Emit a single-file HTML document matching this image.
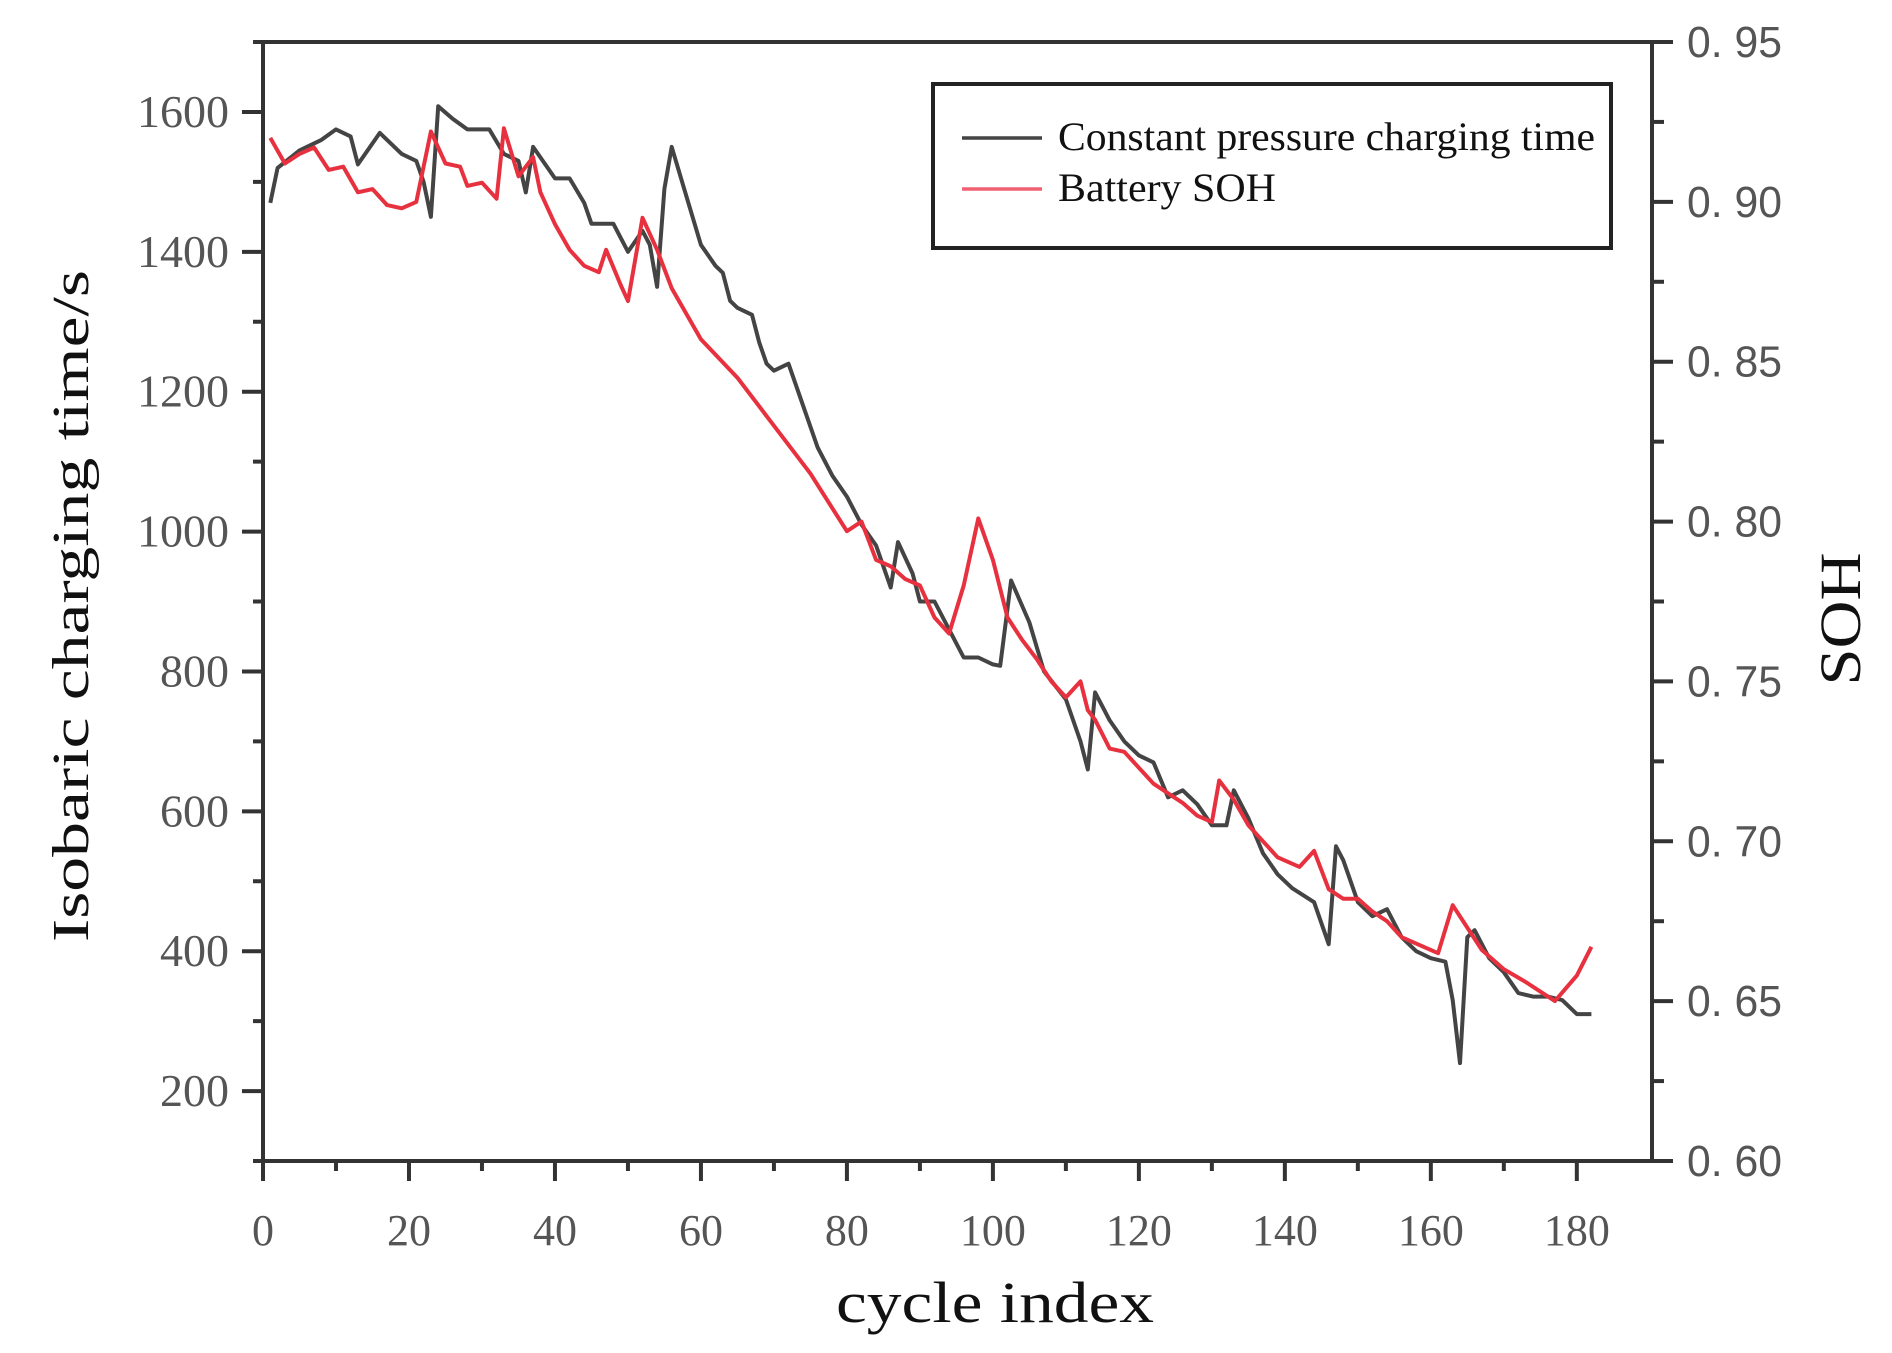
<!DOCTYPE html>
<html><head><meta charset="utf-8"><style>
html,body{margin:0;padding:0;background:#fff;width:1892px;height:1353px;overflow:hidden}
svg{display:block}
</style></head><body>
<svg id="chart" width="1892" height="1353" viewBox="0 0 1892 1353" xmlns="http://www.w3.org/2000/svg">
<g id="axes"></g>
<g id="series"></g>
<g id="legend">
  <rect x="933" y="84" width="678" height="164" fill="#fff" stroke="#222" stroke-width="4"/>
  <line x1="962" y1="138" x2="1042" y2="138" stroke="#444" stroke-width="3.5"/>
  <text x="1058" y="150" font-family="Liberation Serif, serif" font-size="40" fill="#111" textLength="537" lengthAdjust="spacingAndGlyphs">Constant pressure charging time</text>
  <line x1="962" y1="189" x2="1042" y2="189" stroke="#f06070" stroke-width="3.5"/>
  <text x="1058" y="201" font-family="Liberation Serif, serif" font-size="40" fill="#111" textLength="218" lengthAdjust="spacingAndGlyphs">Battery SOH</text>
</g>
<text transform="translate(88,606) rotate(-90)" text-anchor="middle" font-family="Liberation Serif, serif" font-size="52" fill="#111" textLength="672" lengthAdjust="spacingAndGlyphs">Isobaric charging time/s</text>
<text x="995" y="1322" text-anchor="middle" font-family="Liberation Serif, serif" font-size="58" fill="#111" textLength="318" lengthAdjust="spacingAndGlyphs">cycle index</text>
<text transform="translate(1860,619) rotate(-90)" text-anchor="middle" font-family="Liberation Serif, serif" font-size="58" fill="#111" textLength="133" lengthAdjust="spacingAndGlyphs">SOH</text>
</svg>
<script>
const xTicks=[0,20,40,60,80,100,120,140,160,180];
const leftTicks=[200,400,600,800,1000,1200,1400,1600];
const rightTicks=[0.60,0.65,0.70,0.75,0.80,0.85,0.90,0.95];
const rightTickLabels=["0. 60","0. 65","0. 70","0. 75","0. 80","0. 85","0. 90","0. 95"];
const timeCycles=[1,2,5,8,10,12,13,16,19,21,22,23,24,26,28,31,33,35,36,37,39,40,42,44,45,48,50,52,53,54,55,56,58,60,62,63,64,65,67,68,69,70,72,74,76,78,80,82,84,86,87,89,90,92,94,96,98,100,101,102.5,105,107,110,112,113,114,116,118,120,122,124,126,128,130,132,133,135,137,139,141,144,146,147,148,150,152,154,156,158,160,162,163,164,165,166,168,170,172,174,176,178,180,182];
const timeValues=[1470,1520,1545,1560,1575,1565,1525,1570,1540,1530,1500,1450,1608,1590,1575,1575,1540,1530,1485,1550,1520,1505,1505,1470,1440,1440,1400,1430,1410,1350,1490,1550,1480,1410,1380,1370,1330,1320,1310,1270,1240,1230,1240,1180,1120,1080,1050,1010,980,920,985,940,900,900,860,820,820,810,808,930,870,800,760,700,660,770,730,700,680,670,620,630,610,580,580,630,590,540,510,490,470,410,550,530,470,450,460,420,400,390,385,330,240,420,430,390,370,340,335,335,330,310,310];
const sohCycles=[1,3,5,7,9,11,13,15,17,19,21,23,25,27,28,30,32,33,35,37,38,40,42,44,46,47,49,50,52,54,56,60,65,70,75,80,82,84,86,88,90,92,94,96,98,100,102,104,106,108,110,112,113,114,116,118,120,122,124,126,128,130,131,133,135,137,139,142,144,146,148,150,152,154,156,158,161,163,165,167,170,173,175,177,180,182];
const sohValues=[0.920,0.912,0.915,0.917,0.910,0.911,0.903,0.904,0.899,0.898,0.900,0.922,0.912,0.911,0.905,0.906,0.901,0.923,0.908,0.914,0.903,0.893,0.885,0.880,0.878,0.885,0.874,0.869,0.895,0.885,0.873,0.857,0.845,0.830,0.815,0.797,0.800,0.788,0.786,0.782,0.780,0.770,0.765,0.780,0.801,0.788,0.770,0.763,0.757,0.750,0.745,0.750,0.741,0.738,0.729,0.728,0.723,0.718,0.715,0.712,0.708,0.706,0.719,0.713,0.705,0.700,0.695,0.692,0.697,0.685,0.682,0.682,0.678,0.675,0.670,0.668,0.665,0.680,0.673,0.666,0.660,0.656,0.653,0.650,0.658,0.667];

const X0=263,X1=1652,Y0=1161,YT=42;
const xMin=0,xMax=190.3,lMin=100,lMax=1700,rMin=0.60,rMax=0.95;
const xs=v=>X0+(v-xMin)/(xMax-xMin)*(X1-X0);
const yl=v=>Y0-(v-lMin)/(lMax-lMin)*(Y0-YT);
const yr=v=>Y0-(v-rMin)/(rMax-rMin)*(Y0-YT);
const NS="http://www.w3.org/2000/svg";
const axes=document.getElementById('axes'),series=document.getElementById('series');
function mk(tag,attrs,parent){const e=document.createElementNS(NS,tag);for(const k in attrs)e.setAttribute(k,attrs[k]);parent.appendChild(e);return e;}
const ac="#333";
let e;
e=mk('line',{x1:X0,y1:YT,x2:X0,y2:Y0+20,stroke:ac,'stroke-width':4},axes);


e=mk('line',{x1:X0-10,y1:Y0,x2:X1+20,y2:Y0,stroke:ac,'stroke-width':4},axes);


e=mk('line',{x1:X1,y1:YT,x2:X1,y2:Y0,stroke:ac,'stroke-width':4},axes);


e=mk('line',{x1:X0-10,y1:YT,x2:X1+20,y2:YT,stroke:ac,'stroke-width':4},axes);


for(let v=0;v<=180;v+=10){const maj=v%20===0;
 e=mk('line',{x1:xs(v),y1:Y0,x2:xs(v),y2:Y0+(maj?20:10),stroke:ac,'stroke-width':4},axes);
 
 }
xTicks.forEach(v=>{e=mk('text',{x:xs(v),y:1245,'text-anchor':'middle','font-family':'Liberation Serif, serif','font-size':44,fill:'#555'},axes);e.textContent=String(v);
 
 });
for(let v=200;v<=1600;v+=100){const maj=v%200===0;
 e=mk('line',{x1:X0-(maj?21:10),y1:yl(v),x2:X0,y2:yl(v),stroke:ac,'stroke-width':4},axes);
 
 }
leftTicks.forEach(v=>{e=mk('text',{x:229,y:yl(v)+15,'text-anchor':'end','font-family':'Liberation Serif, serif','font-size':46,fill:'#555'},axes);e.textContent=String(v);
 
 });
for(let i=0;i<=14;i++){const v=0.60+i*0.025;const maj=i%2===0;
 e=mk('line',{x1:X1,y1:yr(v),x2:X1+(maj?21:12),y2:yr(v),stroke:ac,'stroke-width':4},axes);
 
 }
rightTicks.forEach((v,i)=>{e=mk('text',{x:1687,y:yr(v)+15,'font-family':'Liberation Sans, sans-serif','font-size':44,fill:'#555',textLength:95,lengthAdjust:'spacingAndGlyphs'},axes);e.textContent=rightTickLabels[i];
 
 });
const pt=timeCycles.map((c,i)=>xs(c).toFixed(1)+','+yl(timeValues[i]).toFixed(1)).join(' ');
e=mk('polyline',{points:pt,fill:'none',stroke:'#444','stroke-width':4,'stroke-linejoin':'round'},series);


const ps=sohCycles.map((c,i)=>xs(c).toFixed(1)+','+yr(sohValues[i]).toFixed(1)).join(' ');
e=mk('polyline',{points:ps,fill:'none',stroke:'#e8313f','stroke-width':4,'stroke-linejoin':'round'},series);


</script>
</body></html>
